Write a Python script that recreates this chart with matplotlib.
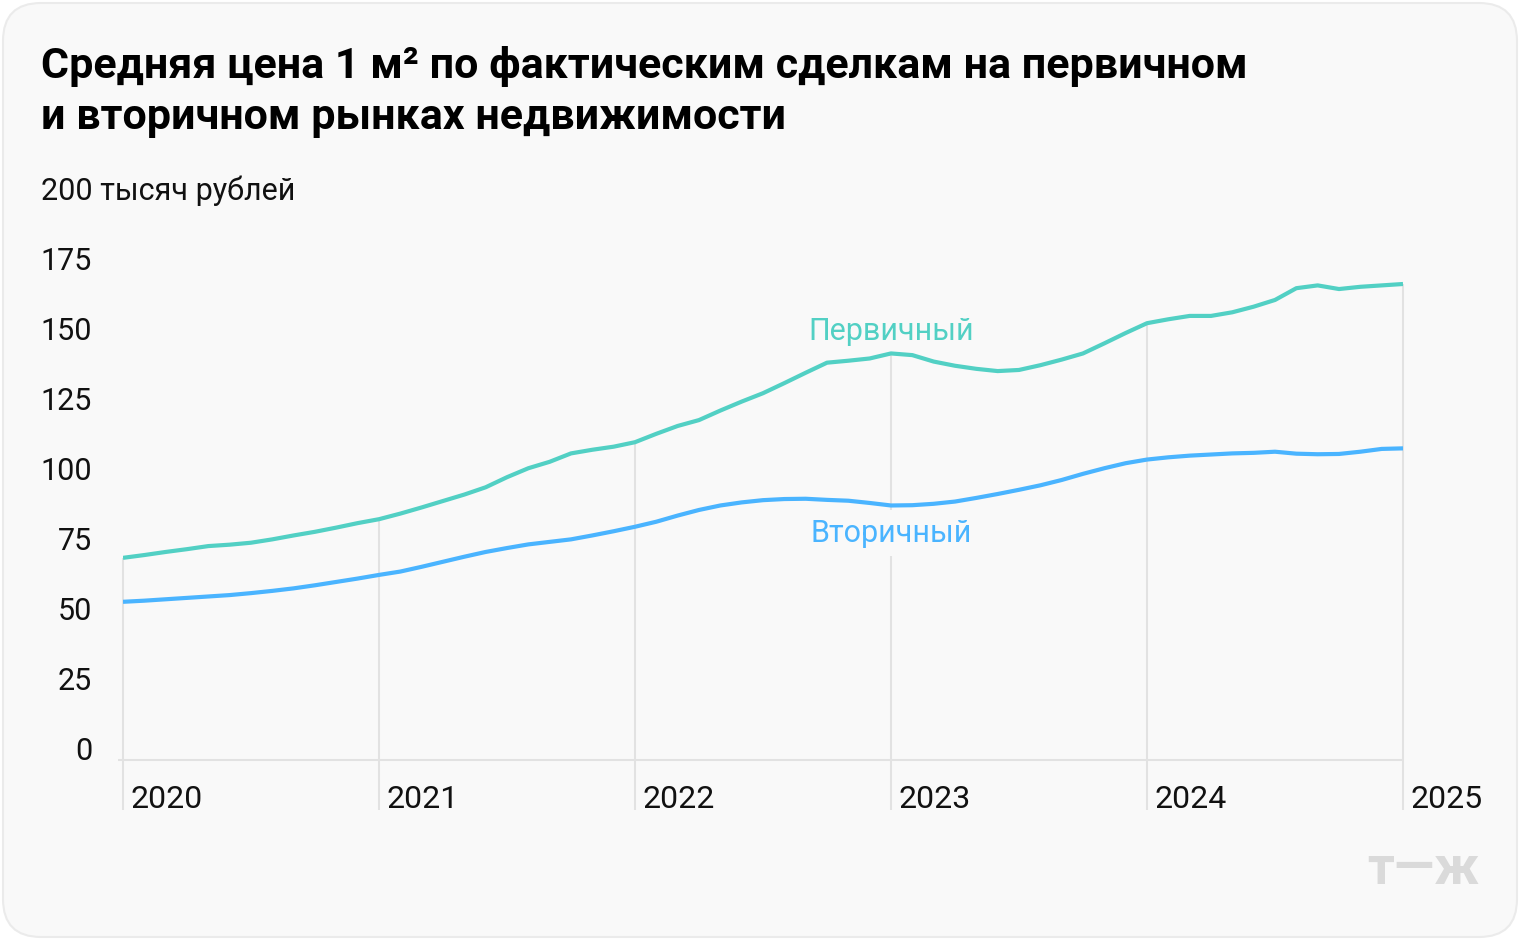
import numpy as np
import matplotlib.pyplot as plt
from matplotlib.patches import FancyBboxPatch

# Данные: помесячно, январь 2020 — январь 2025, тысяч рублей за 1 м²
months = 2020 + np.arange(61) / 12

primary = [72.2, 73.2, 74.3, 75.3, 76.4, 76.9, 77.6, 78.8, 80.2, 81.5,
           83.0, 84.6, 86.0, 88.0, 90.2, 92.5, 94.8, 97.4, 101.0, 104.2,
           106.5, 109.5, 110.8, 111.9, 113.5, 116.5, 119.3, 121.4, 124.8, 128.0,
           131.0, 134.6, 138.3, 141.9, 142.6, 143.4, 145.2, 144.6, 142.3, 140.8,
           139.7, 138.9, 139.3, 141.0, 143.0, 145.2, 148.8, 152.5, 156.0, 157.4,
           158.6, 158.6, 159.9, 161.9, 164.3, 168.5, 169.5, 168.2, 169.0, 169.5,
           170.0]

secondary = [56.5, 56.9, 57.4, 57.9, 58.4, 58.9, 59.6, 60.4, 61.3, 62.4,
             63.6, 64.8, 66.1, 67.3, 69.0, 70.8, 72.6, 74.3, 75.7, 77.0,
             77.9, 78.8, 80.2, 81.7, 83.3, 85.1, 87.3, 89.3, 90.9, 92.0,
             92.8, 93.2, 93.3, 92.9, 92.6, 91.8, 90.9, 91.0, 91.5, 92.3,
             93.6, 95.0, 96.5, 98.1, 100.0, 102.2, 104.2, 106.0, 107.3, 108.1,
             108.7, 109.1, 109.5, 109.7, 110.1, 109.4, 109.2, 109.3, 110.1, 111.1,
             111.3]

years = [2020, 2021, 2022, 2023, 2024, 2025]
yticks = [0, 25, 50, 75, 100, 125, 150, 175]

title = "Средняя цена 1 м² по фактическим сделкам на первичном\nи вторичном рынках недвижимости"

c_primary = "#52d0c4"
c_secondary = "#4ab4ff"
bg = "#f9f9f9"
grid_c = "#e2e2e2"

plt.rcParams['font.family'] = ['Roboto', 'DejaVu Sans']

fig = plt.figure(figsize=(15.2, 9.4), dpi=100)
fig.patch.set_facecolor("white")

# карточка с закруглёнными углами
card = FancyBboxPatch((3 / 1520, 3 / 940), 1514 / 1520, 934 / 940,
                      boxstyle="round,pad=0,rounding_size=0.025",
                      transform=fig.transFigure, facecolor=bg,
                      edgecolor="#ebebeb", linewidth=1.5,
                      mutation_aspect=1520 / 940, zorder=-10)
fig.patches.append(card)

ax = fig.add_axes([123 / 1520, 180 / 940, 1280 / 1520, 560 / 940])
ax.set_zorder(5)
ax.set_facecolor("none")
ax.set_xlim(2020, 2025)
ax.set_ylim(0, 200)
for s in ax.spines.values():
    s.set_visible(False)
ax.set_xticks([])
ax.set_yticks([])

# вертикальные линии годов: от первичного ряда до подписи
prim_arr = np.array(primary)
for y in years:
    top = np.interp(y, months, prim_arr)
    ax.vlines(y, -18, top, color=grid_c, linewidth=1.5, clip_on=False, zorder=1)
    ax.text(y + 0.031, -14, str(y), fontsize=23, color="#111111",
            ha="left", va="center")

ax.hlines(0, 2019.98, 2025, color=grid_c, linewidth=1.5, clip_on=False, zorder=1)

ax.plot(months, primary, color=c_primary, linewidth=3, zorder=3,
        solid_joinstyle="round", solid_capstyle="butt")
ax.plot(months, secondary, color=c_secondary, linewidth=3, zorder=3,
        solid_joinstyle="round", solid_capstyle="butt")

# подписи оси y
ytr = ax.get_yaxis_transform()
for v in yticks:
    ax.text(-0.0242, v, str(v), transform=ytr, fontsize=22, color="#111111",
            ha="right", va="baseline")
ax.text(-0.064, 200, "200 тысяч рублей", transform=ytr, fontsize=22,
        color="#111111", ha="left", va="baseline")

# подписи рядов
ax.text(2023.0, 153.0, "Первичный", fontsize=22, color=c_primary,
        ha="center", va="center", zorder=4)
ax.text(2023.0, 81.0, "Вторичный", fontsize=22, color=c_secondary,
        ha="center", va="center", zorder=4,
        bbox=dict(facecolor=bg, edgecolor="none", pad=6))

fig.text(41 / 1520, 1 - 46 / 940, title, fontsize=31, fontweight="bold",
         color="#000000", ha="left", va="top", linespacing=1.3)

fig.text(1479 / 1520, 1 - 870 / 940, "т—ж", fontsize=38, fontweight="bold",
         color="#dadada", ha="right", va="center")

fig.savefig("out.png", dpi=100, facecolor=fig.get_facecolor())
